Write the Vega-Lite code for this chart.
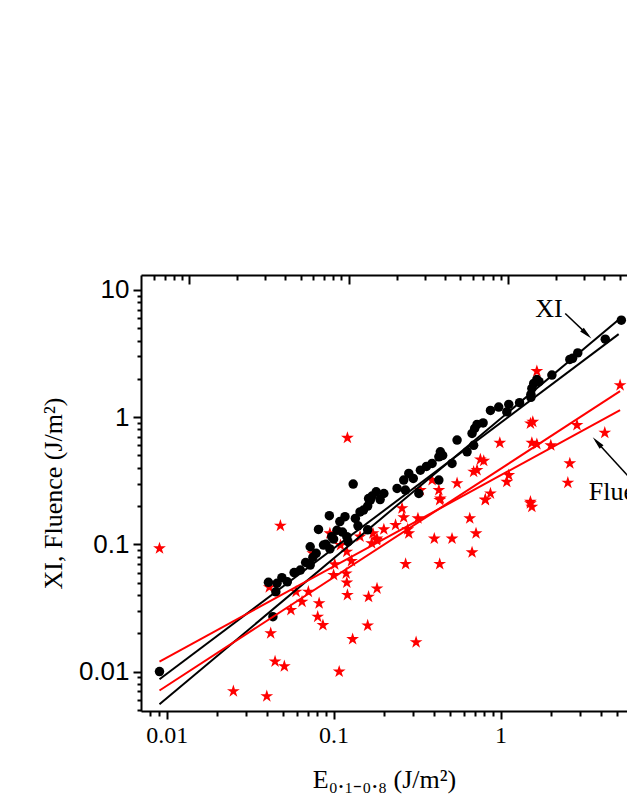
{
  "$schema": "https://vega.github.io/schema/vega-lite/v6.json",
  "width": 486,
  "height": 436,
  "autosize": {"type": "none"},
  "padding": {"left": 141, "top": 275, "right": 0, "bottom": 100},
  "background": "white",
  "config": {"view": {"stroke": null}},
  "datasets": {
    "xi": [
      {"x":0.00906,"y":0.0100},{"x":0.0407,"y":0.0503},{"x":0.0458,"y":0.0494},{"x":0.0451,"y":0.0424},
      {"x":0.0490,"y":0.0547},{"x":0.0528,"y":0.0508},{"x":0.0433,"y":0.0270},{"x":0.058,"y":0.060},
      {"x":0.0632,"y":0.0628},{"x":0.068,"y":0.072},{"x":0.0724,"y":0.0688},{"x":0.0751,"y":0.079},
      {"x":0.0786,"y":0.085},{"x":0.0724,"y":0.0958},{"x":0.0812,"y":0.131},{"x":0.0943,"y":0.168},
      {"x":0.087,"y":0.0987},{"x":0.090,"y":0.100},{"x":0.095,"y":0.092},{"x":0.0975,"y":0.115},
      {"x":0.100,"y":0.110},{"x":0.1047,"y":0.129},{"x":0.109,"y":0.151},{"x":0.113,"y":0.125},
      {"x":0.117,"y":0.165},{"x":0.120,"y":0.115},{"x":0.122,"y":0.105},{"x":0.135,"y":0.160},
      {"x":0.140,"y":0.140},{"x":0.144,"y":0.180},{"x":0.151,"y":0.186},{"x":0.160,"y":0.130},
      {"x":0.160,"y":0.200},{"x":0.166,"y":0.223},{"x":0.131,"y":0.298},{"x":0.162,"y":0.229},
      {"x":0.170,"y":0.240},{"x":0.180,"y":0.259},{"x":0.190,"y":0.225},{"x":0.200,"y":0.251},
      {"x":0.240,"y":0.275},{"x":0.263,"y":0.320},{"x":0.269,"y":0.267},{"x":0.282,"y":0.361},
      {"x":0.300,"y":0.330},{"x":0.324,"y":0.251},{"x":0.331,"y":0.383},{"x":0.360,"y":0.410},
      {"x":0.389,"y":0.433},{"x":0.427,"y":0.320},{"x":0.427,"y":0.488},{"x":0.436,"y":0.534},
      {"x":0.450,"y":0.500},{"x":0.512,"y":0.433},{"x":0.549,"y":0.660},{"x":0.630,"y":0.534},
      {"x":0.690,"y":0.600},{"x":0.675,"y":0.745},{"x":0.700,"y":0.815},{"x":0.723,"y":0.876},
      {"x":0.786,"y":0.900},{"x":0.870,"y":1.13},{"x":0.975,"y":1.20},{"x":1.09,"y":1.10},
      {"x":1.12,"y":1.26},{"x":1.30,"y":1.30},{"x":1.52,"y":1.43},{"x":1.52,"y":1.51},
      {"x":1.54,"y":1.68},{"x":1.58,"y":1.84},{"x":1.65,"y":1.98},{"x":1.70,"y":1.90},
      {"x":2.03,"y":2.14},{"x":2.60,"y":2.84},{"x":2.70,"y":2.90},{"x":2.90,"y":3.20},
      {"x":4.24,"y":4.10},{"x":5.29,"y":5.78}
    ],
    "fl": [
      {"x":0.121,"y":0.687},{"x":0.00906,"y":0.093},{"x":0.048,"y":0.14},{"x":0.0412,"y":0.046},
      {"x":0.0420,"y":0.020},{"x":0.0446,"y":0.012},{"x":0.0507,"y":0.011},{"x":0.0251,"y":0.0070},
      {"x":0.0398,"y":0.0064},{"x":0.0555,"y":0.0305},{"x":0.0596,"y":0.0424},{"x":0.0647,"y":0.0354},
      {"x":0.0706,"y":0.0424},{"x":0.0819,"y":0.0344},{"x":0.0803,"y":0.027},{"x":0.0863,"y":0.0232},
      {"x":0.0751,"y":0.085},{"x":0.095,"y":0.122},{"x":0.1016,"y":0.0696},{"x":0.100,"y":0.0574},
      {"x":0.110,"y":0.0987},{"x":0.120,"y":0.0875},{"x":0.128,"y":0.074},{"x":0.119,"y":0.059},
      {"x":0.120,"y":0.050},{"x":0.121,"y":0.040},{"x":0.130,"y":0.018},{"x":0.108,"y":0.010},
      {"x":0.144,"y":0.115},{"x":0.162,"y":0.0387},{"x":0.160,"y":0.023},{"x":0.169,"y":0.102},
      {"x":0.172,"y":0.122},{"x":0.181,"y":0.108},{"x":0.182,"y":0.045},{"x":0.257,"y":0.192},
      {"x":0.263,"y":0.163},{"x":0.320,"y":0.160},{"x":0.235,"y":0.142},{"x":0.200,"y":0.131},
      {"x":0.182,"y":0.111},{"x":0.278,"y":0.131},{"x":0.282,"y":0.122},{"x":0.270,"y":0.070},
      {"x":0.401,"y":0.111},{"x":0.512,"y":0.111},{"x":0.432,"y":0.070},{"x":0.312,"y":0.017},
      {"x":0.654,"y":0.160},{"x":0.713,"y":0.122},{"x":0.675,"y":0.0865},{"x":0.432,"y":0.223},
      {"x":0.811,"y":0.223},{"x":1.51,"y":0.210},{"x":1.54,"y":0.197},{"x":1.65,"y":2.30},
      {"x":5.2,"y":1.78},{"x":2.87,"y":0.866},{"x":4.21,"y":0.753},{"x":2.60,"y":0.433},
      {"x":2.53,"y":0.305},{"x":1.51,"y":0.892},{"x":1.56,"y":0.918},{"x":1.54,"y":0.628},
      {"x":1.65,"y":0.614},{"x":2.0,"y":0.600},{"x":0.99,"y":0.628},{"x":0.757,"y":0.465},
      {"x":0.793,"y":0.453},{"x":0.723,"y":0.383},{"x":0.690,"y":0.372},{"x":0.549,"y":0.302},
      {"x":0.427,"y":0.267},{"x":0.436,"y":0.229},{"x":0.389,"y":0.320},{"x":0.331,"y":0.267},
      {"x":0.870,"y":0.251},{"x":0.810,"y":0.225},{"x":1.12,"y":0.350},{"x":1.09,"y":0.310},
      {"x":1.51,"y":0.216}
    ],
    "xiFits": [
      {"fit":"a","x":0.00906,"y":0.00553},{"fit":"a","x":5.2,"y":5.96},
      {"fit":"b","x":0.00906,"y":0.0087},{"fit":"b","x":5.1,"y":4.49}
    ],
    "flFits": [
      {"fit":"c","x":0.00906,"y":0.012},{"fit":"c","x":5.2,"y":1.135},
      {"fit":"d","x":0.00906,"y":0.0071},{"fit":"d","x":5.2,"y":1.60}
    ],
    "arrows": [
      {"x":2.44,"y":6.53,"x2":3.34,"y2":4.41},
      {"x":5.96,"y":0.332,"x2":3.73,"y2":0.648}
    ],
    "labels": [{"x":1.95,"y":6.1,"text":"XI"}],
    "labels2": [{"x":3.38,"y":0.223,"text":"Fluence"}]
  },
  "layer": [
    {
      "data": {"name": "fl"},
      "mark": {"type": "point", "shape": "M0,-1L0.2245,-0.309L0.951,-0.309L0.363,0.118L0.588,0.809L0,0.382L-0.588,0.809L-0.363,0.118L-0.951,-0.309L-0.2245,-0.309Z", "filled": true, "color": "#ff0000", "size": 180, "opacity": 1, "strokeWidth": 0},
      "encoding": {
        "x": {"field": "x", "type": "quantitative",
          "scale": {"type": "log", "domain": [0.00702, 5.72], "nice": false},
          "axis": {"orient": "bottom", "values": [0.01, 0.1, 1], "format": "~g",
            "labelFont": "Liberation Serif", "labelFontSize": 24, "labelColor": "black",
            "labelOverlap": false, "labelFlush": false, "labelPadding": 4,
            "tickColor": "black", "tickWidth": 2, "tickSize": 8,
            "domainColor": "black", "domainWidth": 2, "grid": false,
            "title": "E₀.₁₋₀.₈  (J/m²)",
            "titleFont": "Liberation Serif", "titleFontSize": 26, "titleFontWeight": "normal",
            "titleColor": "black", "titlePadding": 19}},
        "y": {"field": "y", "type": "quantitative",
          "scale": {"type": "log", "domain": [0.0049, 13.1], "nice": false},
          "axis": {"orient": "left", "values": [0.01, 0.1, 1, 10], "format": "~g",
            "labelFont": "Liberation Sans", "labelFontSize": 26, "labelColor": "black",
            "labelOverlap": false, "labelFlush": false, "labelPadding": 4,
            "tickColor": "black", "tickWidth": 2, "tickSize": 8,
            "domainColor": "black", "domainWidth": 2, "grid": false,
            "title": "XI, Fluence (J/m²)",
            "titleFont": "Liberation Serif", "titleFontSize": 26, "titleFontWeight": "normal",
            "titleColor": "black", "titlePadding": 12}}
      }
    },
    {
      "data": {"name": "xi"},
      "mark": {"type": "point", "shape": "circle", "filled": true, "color": "black", "size": 90, "opacity": 1},
      "encoding": {
        "x": {"field": "x", "type": "quantitative",
          "scale": {"type": "log", "domain": [0.00702, 5.72], "nice": false},
          "axis": {"orient": "bottom", "values": [0.008,0.009,0.02,0.03,0.04,0.05,0.06,0.07,0.08,0.09,0.2,0.3,0.4,0.5,0.6,0.7,0.8,0.9,2,3,4,5],
            "labels": false, "title": null, "domain": false, "grid": false,
            "tickColor": "black", "tickWidth": 2, "tickSize": 5}},
        "y": {"field": "y", "type": "quantitative",
          "scale": {"type": "log", "domain": [0.0049, 13.1], "nice": false},
          "axis": {"orient": "left", "values": [0.005,0.006,0.007,0.008,0.009,0.02,0.03,0.04,0.05,0.06,0.07,0.08,0.09,0.2,0.3,0.4,0.5,0.6,0.7,0.8,0.9,2,3,4,5,6,7,8,9],
            "labels": false, "title": null, "domain": false, "grid": false,
            "tickColor": "black", "tickWidth": 2, "tickSize": 4}}
      }
    },
    {
      "data": {"name": "xiFits"},
      "mark": {"type": "line", "color": "black", "strokeWidth": 2},
      "encoding": {
        "x": {"field": "x", "type": "quantitative", "scale": {"type": "log", "domain": [0.00702, 5.72], "nice": false}, "axis": null},
        "y": {"field": "y", "type": "quantitative", "scale": {"type": "log", "domain": [0.0049, 13.1], "nice": false}, "axis": null},
        "detail": {"field": "fit", "type": "nominal"}
      }
    },
    {
      "data": {"name": "flFits"},
      "mark": {"type": "line", "color": "#ff0000", "strokeWidth": 2},
      "encoding": {
        "x": {"field": "x", "type": "quantitative", "scale": {"type": "log", "domain": [0.00702, 5.72], "nice": false}, "axis": null},
        "y": {"field": "y", "type": "quantitative", "scale": {"type": "log", "domain": [0.0049, 13.1], "nice": false}, "axis": null},
        "detail": {"field": "fit", "type": "nominal"}
      }
    },
    {
      "data": {"name": "arrows"},
      "mark": {"type": "rule", "color": "black", "strokeWidth": 1.5},
      "encoding": {
        "x": {"field": "x", "type": "quantitative", "scale": {"type": "log", "domain": [0.00702, 5.72], "nice": false}, "axis": null},
        "y": {"field": "y", "type": "quantitative", "scale": {"type": "log", "domain": [0.0049, 13.1], "nice": false}, "axis": null},
        "x2": {"field": "x2"},
        "y2": {"field": "y2"}
      }
    },
    {
      "data": {"values": [{"x": 3.28, "y": 4.5}]},
      "mark": {"type": "point", "shape": "M0,-1L0.4,1L-0.4,1Z", "filled": true, "color": "black", "size": 170, "angle": 133.8, "opacity": 1, "strokeWidth": 0},
      "encoding": {
        "x": {"field": "x", "type": "quantitative", "scale": {"type": "log", "domain": [0.00702, 5.72], "nice": false}, "axis": null},
        "y": {"field": "y", "type": "quantitative", "scale": {"type": "log", "domain": [0.0049, 13.1], "nice": false}, "axis": null}
      }
    },
    {
      "data": {"values": [{"x": 3.79, "y": 0.636}]},
      "mark": {"type": "point", "shape": "M0,-1L0.4,1L-0.4,1Z", "filled": true, "color": "black", "size": 170, "angle": 317.6, "opacity": 1, "strokeWidth": 0},
      "encoding": {
        "x": {"field": "x", "type": "quantitative", "scale": {"type": "log", "domain": [0.00702, 5.72], "nice": false}, "axis": null},
        "y": {"field": "y", "type": "quantitative", "scale": {"type": "log", "domain": [0.0049, 13.1], "nice": false}, "axis": null}
      }
    },
    {
      "data": {"name": "labels"},
      "mark": {"type": "text", "font": "Liberation Serif", "fontSize": 26, "color": "black", "align": "center", "baseline": "alphabetic"},
      "encoding": {
        "x": {"field": "x", "type": "quantitative", "scale": {"type": "log", "domain": [0.00702, 5.72], "nice": false}, "axis": null},
        "y": {"field": "y", "type": "quantitative", "scale": {"type": "log", "domain": [0.0049, 13.1], "nice": false}, "axis": null},
        "text": {"field": "text", "type": "nominal"}
      }
    },
    {
      "data": {"name": "labels2"},
      "mark": {"type": "text", "font": "Liberation Serif", "fontSize": 26, "color": "black", "align": "left", "baseline": "alphabetic"},
      "encoding": {
        "x": {"field": "x", "type": "quantitative", "scale": {"type": "log", "domain": [0.00702, 5.72], "nice": false}, "axis": null},
        "y": {"field": "y", "type": "quantitative", "scale": {"type": "log", "domain": [0.0049, 13.1], "nice": false}, "axis": null},
        "text": {"field": "text", "type": "nominal"}
      }
    },
    {
      "data": {"values": [{"t": 0.01}]},
      "mark": {"type": "point", "opacity": 0},
      "encoding": {
        "x": {"field": "t", "type": "quantitative",
          "scale": {"type": "log", "domain": [0.00497, 5.57], "nice": false},
          "axis": {"orient": "top", "values": [0.01, 0.1, 1], "labels": false, "title": null, "grid": false,
            "tickColor": "black", "tickWidth": 2, "tickSize": -9, "domainColor": "black", "domainWidth": 2}}
      }
    },
    {
      "data": {"values": [{"t": 0.01}]},
      "mark": {"type": "point", "opacity": 0},
      "encoding": {
        "x": {"field": "t", "type": "quantitative",
          "scale": {"type": "log", "domain": [0.00497, 5.57], "nice": false},
          "axis": {"orient": "top", "values": [0.006,0.007,0.008,0.009,0.02,0.03,0.04,0.05,0.06,0.07,0.08,0.09,0.2,0.3,0.4,0.5,0.6,0.7,0.8,0.9,2,3,4,5],
            "labels": false, "title": null, "grid": false, "domain": false,
            "tickColor": "black", "tickWidth": 2, "tickSize": -5}}
      }
    }
  ],
  "resolve": {"scale": {"x": "independent"}, "axis": {"x": "independent", "y": "independent"}}
}
